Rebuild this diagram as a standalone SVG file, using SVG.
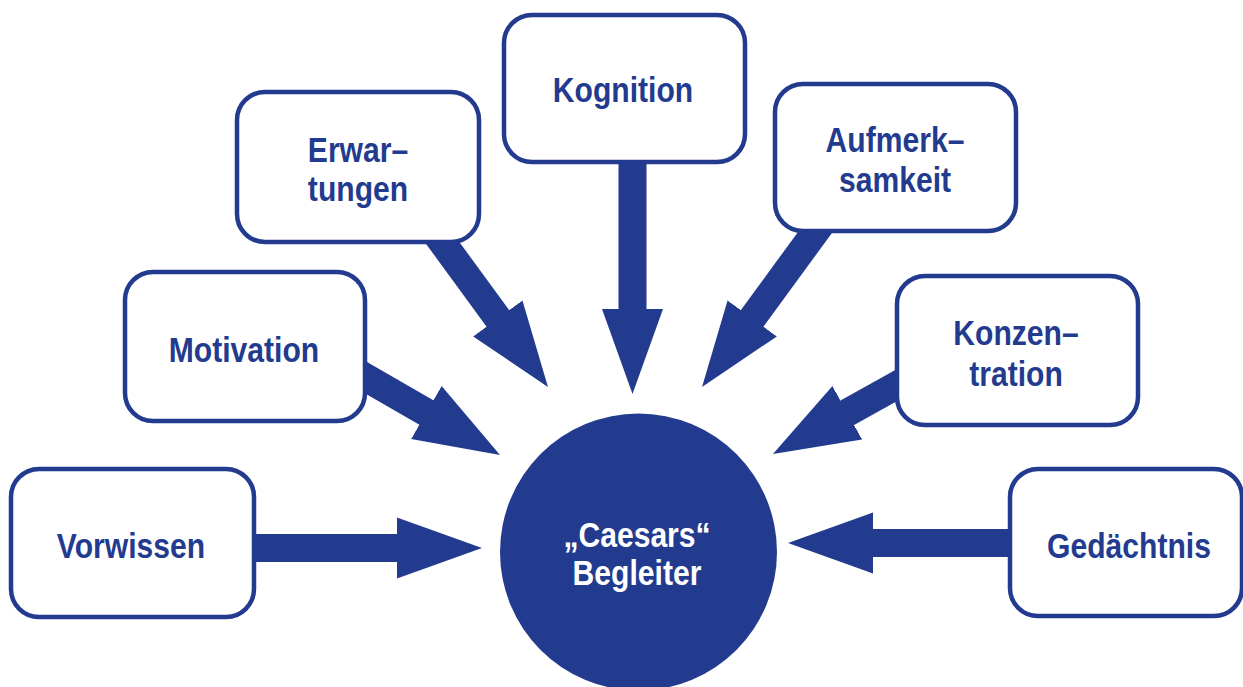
<svg xmlns="http://www.w3.org/2000/svg" width="1243" height="687" viewBox="0 0 1243 687">
<style>
.box{fill:#ffffff;stroke:#233b8f;stroke-width:4.5}
.lbl{font-family:"Liberation Sans",Arial,sans-serif;font-weight:bold;font-size:35px;fill:#233b8f;text-anchor:middle}
.wlbl{font-family:"Liberation Sans",Arial,sans-serif;font-weight:bold;font-size:35px;fill:#ffffff;text-anchor:middle}
.arr{stroke:#233b8f;stroke-width:28;fill:none;marker-end:url(#head)}
</style>
<defs>
<marker id="head" markerUnits="userSpaceOnUse" viewBox="0 -31 86 62" markerWidth="86" markerHeight="62" refX="2" refY="0" orient="auto">
<path d="M0,-30.5 L85,0 L0,30.5 Z" fill="#233b8f"/>
</marker>
</defs>
<rect width="1243" height="687" fill="#ffffff"/>
<g id="connectors">
<line class="arr" x1="240" y1="548" x2="399" y2="548"/>
<line class="arr" x1="1030" y1="543" x2="871" y2="543"/>
<line class="arr" x1="632.5" y1="150" x2="632.5" y2="311"/>
<line class="arr" x1="410.5" y1="198.9" x2="499" y2="320"/>
<line class="arr" x1="839.5" y1="198.9" x2="751" y2="320"/>
<line class="arr" x1="298" y1="338.5" x2="428.1" y2="413.5"/>
<line class="arr" x1="976.6" y1="340.8" x2="845.5" y2="413.7"/>
</g>
<g id="vorwissen">
<rect class="box" x="11" y="469" width="243" height="148" rx="28"/>
<text class="lbl" transform="translate(131,558) scale(0.86,1)">Vorwissen</text>
</g>
<g id="motivation">
<rect class="box" x="125" y="272" width="240" height="149" rx="28"/>
<text class="lbl" transform="translate(244,362) scale(0.86,1)">Motivation</text>
</g>
<g id="erwartungen">
<rect class="box" x="237" y="92" width="242" height="150" rx="28"/>
<text class="lbl" transform="translate(358,162) scale(0.86,1)">Erwar–</text>
<text class="lbl" transform="translate(358,201) scale(0.86,1)">tungen</text>
</g>
<g id="kognition">
<rect class="box" x="504" y="15" width="241" height="147" rx="28"/>
<text class="lbl" transform="translate(623,102) scale(0.86,1)">Kognition</text>
</g>
<g id="aufmerksamkeit">
<rect class="box" x="775" y="84" width="241" height="147" rx="28"/>
<text class="lbl" transform="translate(895,152) scale(0.86,1)">Aufmerk–</text>
<text class="lbl" transform="translate(895,192) scale(0.86,1)">samkeit</text>
</g>
<g id="konzentration">
<rect class="box" x="897" y="276" width="241" height="149" rx="28"/>
<text class="lbl" transform="translate(1016,345) scale(0.86,1)">Konzen–</text>
<text class="lbl" transform="translate(1016,386) scale(0.86,1)">tration</text>
</g>
<g id="gedaechtnis">
<rect class="box" x="1010" y="469" width="232" height="147" rx="28"/>
<text class="lbl" transform="translate(1129,558) scale(0.86,1)">Gedächtnis</text>
</g>
<g id="caesars">
<circle cx="638.5" cy="552" r="138.5" fill="#233b8f"/>
<text class="wlbl" transform="translate(637,547) scale(0.86,1)">„Caesars“</text>
<text class="wlbl" transform="translate(637,585) scale(0.86,1)">Begleiter</text>
</g>
</svg>
